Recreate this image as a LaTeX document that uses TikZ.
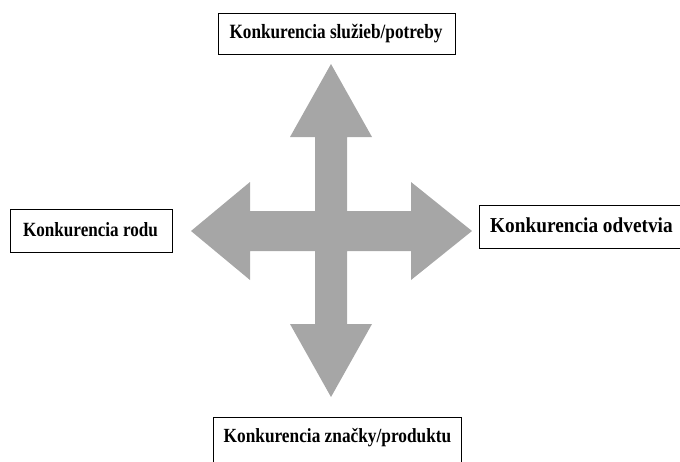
\documentclass[tikz,border=0pt]{standalone}
\usepackage{fontspec}
\setmainfont{Liberation Serif}
\definecolor{arrowgray}{RGB}{166,166,166}
\newcommand{\talltext}[2]{\scalebox{1}[#1]{#2}}
\begin{document}
\begin{tikzpicture}[x=1pt,y=-1pt,
  box/.style={draw=black,line width=0.8pt,fill=white,inner sep=0pt,anchor=north west},
  lbl/.style={inner sep=0pt,font=\bfseries\fontsize{#1}{20}\selectfont,anchor=base},
  lbl/.default=17.2]
\useasboundingbox (0,0) rectangle (680,461);
% four-way arrow
\fill[arrowgray] (315,211) -- (315,137) -- (290,137) -- (331,64) -- (372,137) -- (347,137)
  -- (347,211) -- (411,211) -- (411,182) -- (472,231) -- (411,280) -- (411,251)
  -- (347,251) -- (347,324) -- (372,324) -- (331,397) -- (290,324) -- (315,324)
  -- (315,251) -- (250,251) -- (250,280) -- (191,231) -- (250,182) -- (250,211) -- cycle;
% boxes
\node[box,minimum width=237pt,minimum height=41pt] (topbox) at (218,13) {};
\node[box,minimum width=162pt,minimum height=43pt] (leftbox) at (10,209) {};
\node[box,minimum width=211pt,minimum height=43pt] (rightbox) at (479,205) {};
\node[box,minimum width=248pt,minimum height=53pt] (bottombox) at (213,417) {};
% labels
\node[lbl=17.2] (toptext) at (336,38) {\talltext{1.18}{Konkurencia služieb/potreby}};
\node[lbl=17.1] (lefttext) at (90.5,236) {\talltext{1.18}{Konkurencia rodu}};
\node[lbl=19.3,anchor=base west] (righttext) at (490,232) {\talltext{1.1}{Konkurencia odvetvia}};
\node[lbl=17.3] (bottomtext) at (337.5,442) {\talltext{1.16}{Konkurencia značky/produktu}};
\end{tikzpicture}
\end{document}
